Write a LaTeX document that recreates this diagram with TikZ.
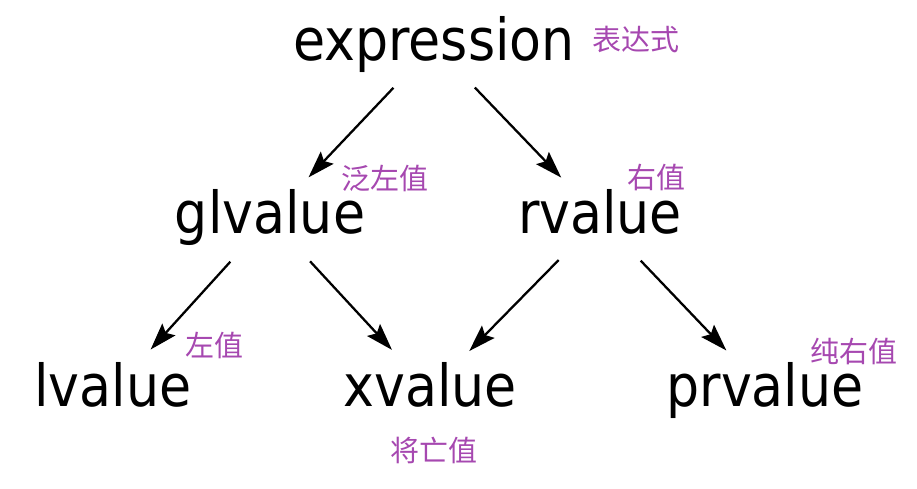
\documentclass[tikz,border=0pt]{standalone}
\usepackage{fontspec}
\setmainfont{DejaVu Sans}
\newfontfamily\termfont[FakeStretch=0.9]{DejaVu Sans}
\newfontfamily\cjk{Noto Sans CJK SC}
\usetikzlibrary{arrows.meta}
\definecolor{notepurple}{RGB}{166,72,176}

\begin{document}
\begin{tikzpicture}[x=0.02cm, y=-0.02cm,
  term/.style={inner sep=0pt, text height=26.4pt, text depth=8.25pt,
    font=\termfont\fontsize{33}{40}\selectfont},
  note/.style={notepurple, inner sep=0pt, font=\cjk\fontsize{16.5}{20}\selectfont},
  arr/.style={-{Stealth[length=5.4mm, width=3.5mm, inset=0.9mm]}, line width=1.3pt,
    shorten <=1.18cm, shorten >=1.12cm}]
  \useasboundingbox (0,0) rectangle (917,489);

  % Categories
  \node[term] (expr) at (434,45)  {expression};
  \node[term] (glv)  at (270,218) {glvalue};
  \node[term] (rv)   at (600,218) {rvalue};
  \node[term] (lv)   at (113,391) {lvalue};
  \node[term] (xv)   at (430,391) {xvalue};
  \node[term] (prv)  at (765,391) {prvalue};

  % Chinese names
  \node[note] (exprnote) at (636,40)  {表达式};
  \node[note] (glvnote)  at (385,178) {泛左值};
  \node[note] (rvnote)   at (656,178) {右值};
  \node[note] (lvnote)   at (214,345) {左值};
  \node[note] (xvnote)   at (434,450) {将亡值};
  \node[note] (prvnote)  at (854,351) {纯右值};

  % Arrows
  \draw[arr] (expr.center) -- (glv.center);
  \draw[arr] (expr.center) -- (rv.center);
  \draw[arr] (glv.center) -- (lv.center);
  \draw[arr] (glv.center) -- (xv.center);
  \draw[arr] (rv.center) -- (xv.center);
  \draw[arr] (rv.center) -- (prv.center);
\end{tikzpicture}
\end{document}
